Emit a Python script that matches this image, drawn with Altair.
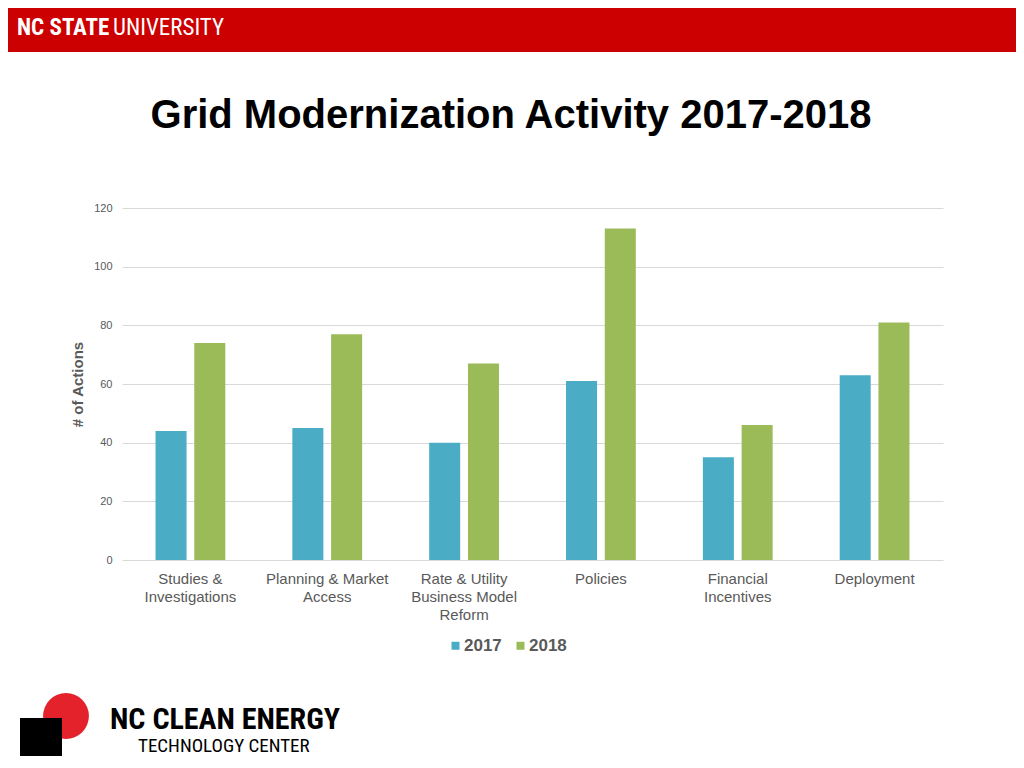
import altair as alt
import pandas as pd

categories = ["Studies &\nInvestigations", "Planning & Market\nAccess",
              "Rate & Utility\nBusiness Model\nReform", "Policies",
              "Financial\nIncentives", "Deployment"]
years = ["2017", "2018"]
values_2017 = [44, 45, 40, 61, 35, 63]
values_2018 = [74, 77, 67, 113, 46, 81]
colors = ["#4BACC6", "#9BBB59"]
y_ticks = [0, 20, 40, 60, 80, 100, 120]

rows = []
for c, a, b in zip(categories, values_2017, values_2018):
    rows.append({"category": c, "year": years[0], "actions": a})
    rows.append({"category": c, "year": years[1], "actions": b})
df = pd.DataFrame(rows)

GRAY = "#595959"
FONT = "Liberation Sans"
NARROW = "Roboto Condensed, DejaVu Sans Condensed, Liberation Sans Narrow, Roboto"

bars = alt.Chart(df).mark_bar().encode(
    x=alt.X("category:N", sort=categories,
            scale=alt.Scale(paddingInner=0.49, paddingOuter=0.245),
            axis=alt.Axis(title=None, labelAngle=0, domain=False, ticks=False,
                          labelExpr="split(datum.label, '\\n')",
                          labelFontSize=15, labelColor=GRAY, labelFont=FONT,
                          labelLineHeight=18, labelPadding=11, labelLimit=200)),
    xOffset=alt.XOffset("year:N", scale=alt.Scale(paddingInner=0.2, paddingOuter=0)),
    y=alt.Y("actions:Q", scale=alt.Scale(domain=[0, 120]),
            axis=alt.Axis(title="# of Actions", values=y_ticks, domain=False, ticks=False,
                          labelFontSize=11, labelColor=GRAY, labelFont=FONT, labelPadding=10,
                          gridColor="#D9D9D9", gridWidth=1,
                          titleFontSize=15, titleFont=FONT, titleFontWeight="bold",
                          titleColor=GRAY, titlePadding=8)),
    color=alt.Color("year:N", scale=alt.Scale(domain=years, range=colors),
                    legend=alt.Legend(title=None, orient="none", direction="horizontal",
                                      legendX=325, legendY=429,
                                      symbolType="square", symbolSize=64, symbolStrokeWidth=0,
                                      labelFontSize=17, labelFontWeight="bold",
                                      labelColor=GRAY, labelFont=FONT,
                                      labelOffset=0, columnPadding=10)),
)

one = alt.Data(values=[{}])

header = alt.Chart(one).mark_rect(color="#CC0000").encode(
    x=alt.value(-114), x2=alt.value(894), y=alt.value(-200), y2=alt.value(-156))

hdr1 = alt.Chart(one).mark_text(text="NC STATE", font=NARROW, fontWeight="bold", fontSize=23,
                                color="white", align="left", baseline="alphabetic").encode(
    x=alt.value(-105), y=alt.value(-173))
hdr2 = alt.Chart(one).mark_text(text="UNIVERSITY", font=NARROW, fontSize=23,
                                color="white", align="left", baseline="alphabetic").encode(
    x=alt.value(-9), y=alt.value(-173))

title = alt.Chart(one).mark_text(text="Grid Modernization Activity 2017-2018", font=FONT,
                                 fontWeight="bold", fontSize=40, color="black",
                                 align="center", baseline="alphabetic").encode(
    x=alt.value(389), y=alt.value(-80))

circle = alt.Chart(one).mark_point(shape="circle", filled=True, color="#E3222B", opacity=1,
                                   size=2100).encode(x=alt.value(-56), y=alt.value(508))
building = alt.Chart(one).mark_rect(color="black").encode(
    x=alt.value(-102), x2=alt.value(-60), y=alt.value(510), y2=alt.value(548))
logo1 = alt.Chart(one).mark_text(text="NC CLEAN ENERGY", font=NARROW, fontWeight="bold",
                                 fontSize=30, color="black", align="left",
                                 baseline="alphabetic").encode(x=alt.value(-12), y=alt.value(521))
logo2 = alt.Chart(one).mark_text(text="TECHNOLOGY CENTER", font=NARROW, fontSize=19,
                                 color="black", align="left",
                                 baseline="alphabetic").encode(x=alt.value(16), y=alt.value(544))

chart = alt.layer(bars, header, hdr1, hdr2, title, circle, building, logo1, logo2).properties(
    width=821, height=352,
    autosize=alt.AutoSizeParams(type="none"),
    padding={"left": 114, "top": 200, "right": 73, "bottom": 198},
).configure_view(stroke=None)

chart.save("out.html", embed_options={"renderer": "svg", "actions": False})
